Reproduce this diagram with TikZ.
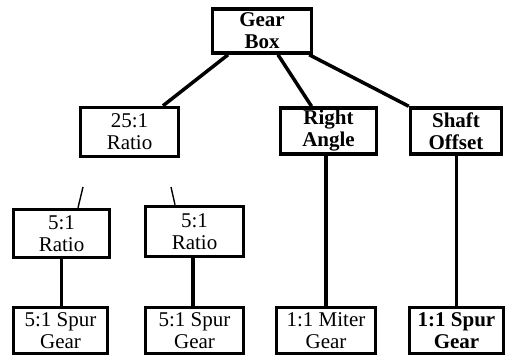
\documentclass[tikz,border=0pt]{standalone}
\usepackage{fontspec}
\setmainfont{Liberation Serif}
\usepackage{tikz}
\tikzstyle{caja} = [rectangle, minimum width=96pt, minimum height=46pt, inner sep=0pt, align=center, draw=black, line width=3.5pt, font=\fontsize{21}{22}\selectfont]
\tikzstyle{cajanegrita} = [caja, font=\fontsize{21}{22}\selectfont\bfseries]
\tikzstyle{linea} = [line width=3.5pt]
\tikzstyle{tramo} = [line width=1.4pt]

\begin{document}
\begin{tikzpicture}[x=1pt, y=-1pt]
        \useasboundingbox (0,0) rectangle (505,360);
        % nivel superior
        \node (caja) [cajanegrita, minimum width=99pt, minimum height=44pt] at (262,31) {Gear\\Box};
        % segundo nivel
        \node (ratio25) [caja, minimum width=98pt, minimum height=49pt] at (129.5,132) {25:1\\Ratio};
        \node (angulo) [cajanegrita] at (328.5,131) {Right\\Angle};
        \node (offset) [cajanegrita, minimum width=91pt] at (456,131) {Shaft\\Offset};
        % tercer nivel
        \node (ratioA) [caja, minimum height=48pt] at (61.5,233.5) {5:1\\Ratio};
        \node (ratioB) [caja, minimum width=98pt, minimum height=50pt] at (194.5,231.5) {5:1\\Ratio};
        % engranajes
        \node (spurA) [caja, minimum width=94pt] at (60.5,330.5) {5:1 Spur\\Gear};
        \node (spurB) [caja, minimum width=98pt] at (194.5,330.5) {5:1 Spur\\Gear};
        \node (miter) [caja, minimum width=99pt] at (326,330.5) {1:1 Miter\\Gear};
        \node (spurC) [cajanegrita, minimum width=94pt] at (456.5,330.5) {1:1 Spur\\Gear};

        \draw [linea] ([xshift=-34pt]caja.south) -- ([xshift=33.5pt]ratio25.north);
        \draw [linea] ([xshift=16pt]caja.south) -- ([xshift=-17pt]angulo.north);
        \draw [linea] ([xshift=-4pt]caja.south east) -- (offset.north west);
        \draw [linea] (miter.north) -- (miter.north |- angulo.south);
        \draw [linea] (spurC.north) -- (spurC.north |- offset.south);
        \draw [linea] (ratioA.south) -- (ratioA.south |- spurA.north);
        \draw [linea] ([xshift=-1.5pt]ratioB.south) -- ([xshift=-1.5pt]spurB.north);

        % tramos sueltos bajo 25:1
        \coordinate (finA) at (83,187);
        \coordinate (finB) at (171,187);
        \draw [tramo] (finA) -- ([xshift=16.5pt]ratioA.north);
        \draw [tramo] (finB) -- ([xshift=-19.5pt]ratioB.north);
    \end{tikzpicture}
\end{document}
